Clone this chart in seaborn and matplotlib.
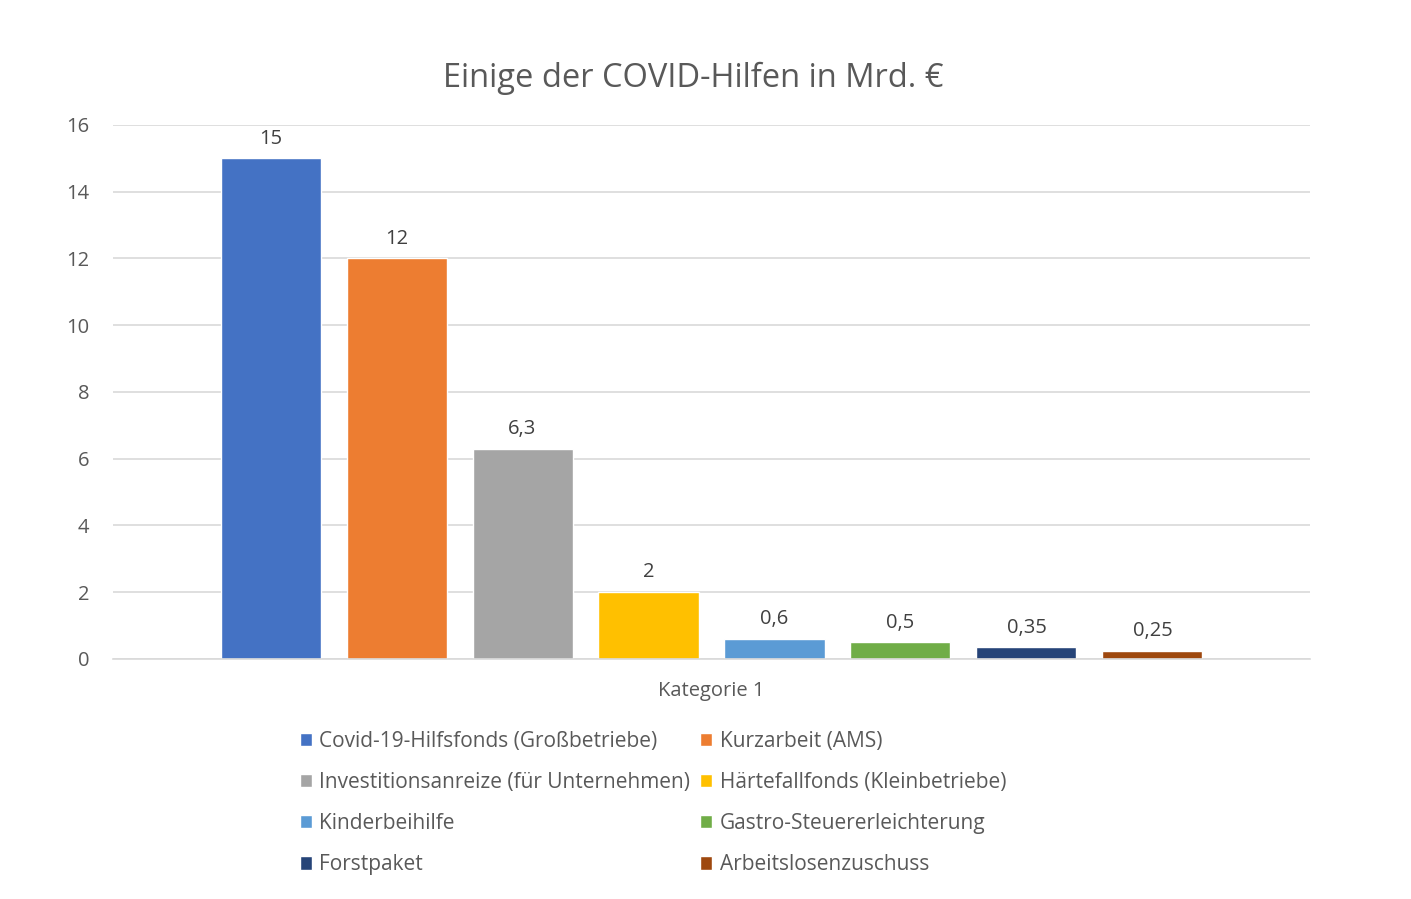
import matplotlib
matplotlib.use("Agg")
import matplotlib.pyplot as plt
import pandas as pd
import seaborn as sns
from matplotlib.patches import Patch

# Data
series = [
    "Covid-19-Hilfsfonds (Großbetriebe)",
    "Kurzarbeit (AMS)",
    "Investitionsanreize (für Unternehmen)",
    "Härtefallfonds (Kleinbetriebe)",
    "Kinderbeihilfe",
    "Gastro-Steuererleichterung",
    "Forstpaket",
    "Arbeitslosenzuschuss",
]
values = [15, 12, 6.3, 2, 0.6, 0.5, 0.35, 0.25]
value_labels = ["15", "12", "6,3", "2", "0,6", "0,5", "0,35", "0,25"]
category = "Kategorie 1"
colors = ["#4472C4", "#ED7D31", "#A5A5A5", "#FFC000",
          "#5B9BD5", "#70AD47", "#264478", "#9E480E"]

df = pd.DataFrame({"Kategorie": [category] * len(series),
                   "Hilfe": series, "Wert": values})

sns.set_style("white")
plt.rcParams["font.family"] = ["Open Sans", "DejaVu Sans"]
text_color = "#595959"

fig = plt.figure(figsize=(14.11, 8.99), dpi=100)
ax = fig.add_axes([0.0801, 0.2670, 0.8483, 0.594])

sns.barplot(data=df, x="Kategorie", y="Wert", hue="Hilfe", hue_order=series,
            palette=colors, width=0.842, gap=0.206, saturation=1,
            legend=False, ax=ax)

for cont, lab in zip(ax.containers, value_labels):
    ax.bar_label(cont, labels=[lab], padding=7, fontsize=14.5, color="#404040")

ax.set_ylim(0, 16)
ax.set_xlim(-0.5, 0.5)
ax.set_yticks(range(0, 17, 2))
ax.yaxis.grid(True, color="#D9D9D9", linewidth=1.2)
ax.set_axisbelow(True)
for s in ["top", "right", "left"]:
    ax.spines[s].set_visible(False)
ax.spines["bottom"].set_color("#D9D9D9")
ax.spines["bottom"].set_linewidth(1.2)
ax.tick_params(axis="both", length=0, labelsize=14.5, colors=text_color)
ax.tick_params(axis="y", pad=17)
ax.tick_params(axis="x", pad=16)
ax.set_xlabel("")
ax.set_ylabel("")

fig.text(0.491, 0.913, "Einige der COVID-Hilfen in Mrd. €", fontsize=23.5,
         color=text_color, ha="center", va="center")

handles = [Patch(facecolor=c, label=s) for c, s in zip(colors, series)]
order = [0, 2, 4, 6, 1, 3, 5, 7]
fig.legend([handles[i] for i in order], [series[i] for i in order],
           ncol=2, loc="upper left", bbox_to_anchor=(0.199, 0.208),
           frameon=False, fontsize=15, labelcolor=text_color,
           handlelength=0.6, handleheight=0.6, handletextpad=0.35,
           columnspacing=0.46, labelspacing=0.97)

fig.savefig("out.png", dpi=100)
